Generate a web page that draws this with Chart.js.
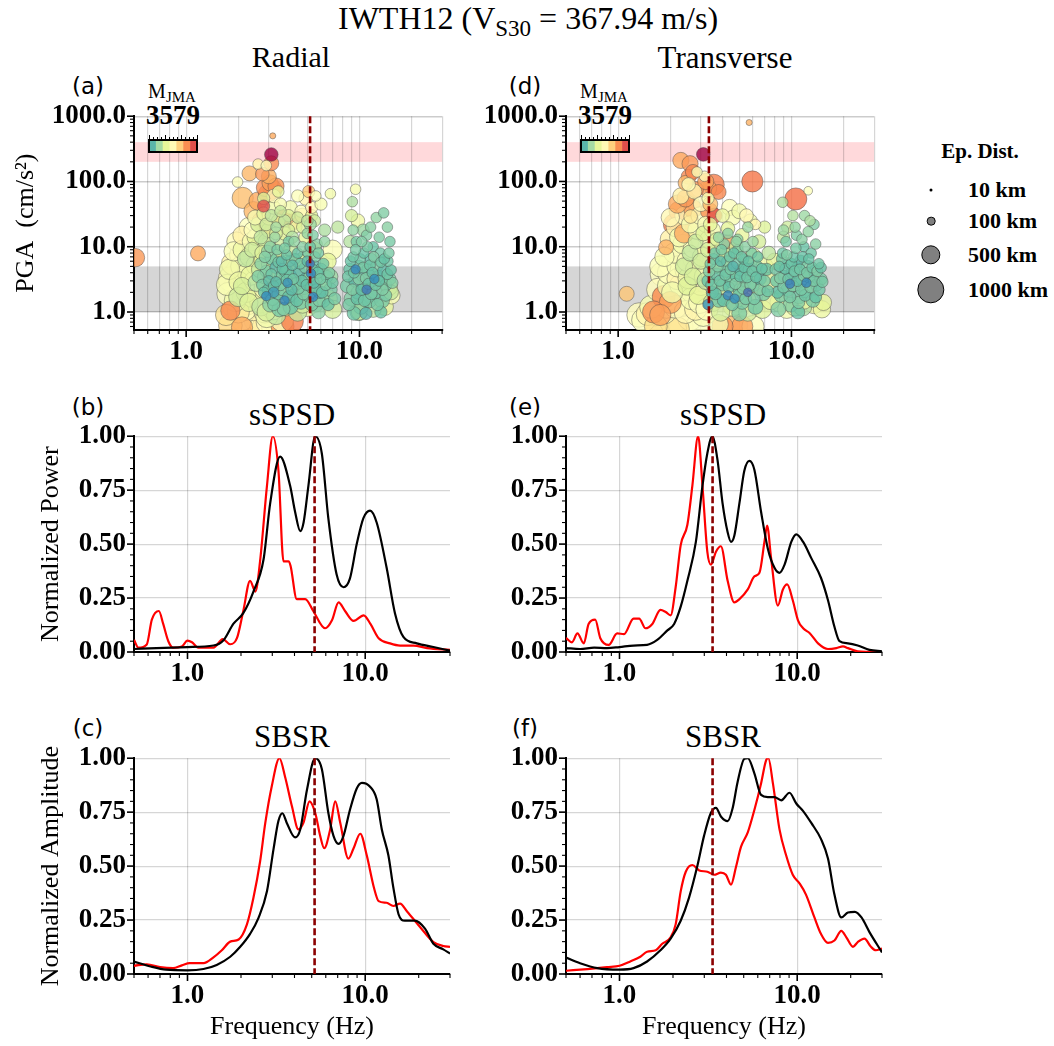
<!DOCTYPE html>
<html>
<head>
<meta charset="utf-8">
<script src="https://cdn.jsdelivr.net/npm/chart.js@4.4.1/dist/chart.umd.min.js"></script>
<style>
  body { margin: 0; background: #fff; }
  #page { position: relative; width: 1054px; height: 1046px; overflow: hidden;
          font-family: "Liberation Serif", "Times New Roman", serif; color: #000; }
  .t { position: absolute; white-space: nowrap; transform: translate(-50%, -50%); line-height: 1; }
  .lab { font-family: "DejaVu Sans", sans-serif; font-size: 23px; }
  .sub { font-size: 0.72em; vertical-align: -0.28em; }
  canvas { position: absolute; }
  .leg { position: absolute; font-weight: bold; font-size: 22px; white-space: nowrap; transform: translateY(-50%); line-height: 1; }
  .dot { position: absolute; border-radius: 50%; background: #808080; border: 1.5px solid #000; transform: translate(-50%, -50%); box-sizing: border-box; }
</style>
</head>
<body>
<div id="page">
  <div class="t" style="left:528px;top:21px;font-size:32px;">IWTH12 (V<span class="sub">S30</span> = 367.94 m/s)</div>
  <div class="t" style="left:291px;top:57px;font-size:30px;">Radial</div>
  <div class="t" style="left:725px;top:57px;font-size:31px;">Transverse</div>

  <div class="t lab" style="left:88px;top:86px;">(a)</div>
  <div class="t lab" style="left:88px;top:407px;">(b)</div>
  <div class="t lab" style="left:88px;top:728px;">(c)</div>
  <div class="t lab" style="left:525px;top:86px;">(d)</div>
  <div class="t lab" style="left:525px;top:407px;">(e)</div>
  <div class="t lab" style="left:525px;top:728px;">(f)</div>

  <div class="t" style="left:292px;top:414px;font-size:31px;">sSPSD</div>
  <div class="t" style="left:723px;top:414px;font-size:31px;">sSPSD</div>
  <div class="t" style="left:292px;top:736px;font-size:31px;">SBSR</div>
  <div class="t" style="left:723px;top:736px;font-size:31px;">SBSR</div>

  <div class="t" style="left:172px;top:93px;font-size:20px;">M<span class="sub" style="font-size:15px">JMA</span></div>
  <div class="t" style="left:173px;top:115px;font-size:27px;font-weight:bold;">3579</div>
  <div class="t" style="left:604px;top:93px;font-size:20px;">M<span class="sub" style="font-size:15px">JMA</span></div>
  <div class="t" style="left:605px;top:115px;font-size:27px;font-weight:bold;">3579</div>

  <div class="t" style="left:980px;top:151px;font-size:21px;font-weight:bold;">Ep. Dist.</div>
</div>

<script>
// ---------- data ----------
const freqTicks = [1, 10];
const pgaTicks = [1, 10, 100, 1000];
const normTicks = [0, 0.25, 0.5, 0.75, 1];
const colorbarTicks = [3, 5, 7, 9];
const distLegend = [10, 100, 500, 1000];

const pgaGrayBand = [1, 5];
const pgaPinkBand = [200, 400];

// dominant frequency (Hz) marked by the dashed line
const peakRadial = 5.19;
const peakTransverse = 3.34;

// [frequency (Hz), PGA (cm/s2), M_JMA, epicentral distance (km)]
const radialPoints = [
  [1.75,1.9,5.2,700],[1.8,3.2,5.4,800],[1.85,5.5,5.6,650],[1.9,1.2,5.0,750],[1.95,2.4,5.3,900],
  [2.0,4.2,5.1,850],[2.05,7.5,5.5,600],[2.1,0.8,5.2,800],[2.15,1.6,5.6,700],[2.2,3.0,5.0,750],
  [2.25,5.8,5.4,650],[2.3,10,5.7,550],[2.35,0.65,5.3,900],[2.4,2.1,5.1,800],[2.45,1.1,5.5,700],
  [2.5,3.8,5.2,600],[2.55,0.75,5.8,850],[2.6,1.5,5.0,750],[2.7,2.6,5.4,700],[2.75,0.6,5.6,800],
  [2.85,1.0,5.1,650],[2.95,0.7,5.3,700],[3.05,1.3,5.5,600],[3.2,0.6,5.2,800],[1.7,0.9,5.9,600],
  [1.8,0.62,6.1,750],[2.0,1.0,5.8,650],[2.25,1.35,5.9,700],[2.4,4.6,5.7,600],[2.6,6.5,5.0,550],
  [1.95,12,5.3,500],[2.1,15,5.6,450],[2.3,20,5.2,500],
  [1.8,1.05,7.2,500],[4.1,0.72,7.3,650],[3.6,0.6,7.0,700],[2.1,0.58,6.8,600],
  [1.72,2.6,5.0,600],[1.78,4.5,4.8,550],[1.88,8.5,5.1,500],[1.92,1.5,4.9,650],[2.02,2.9,4.7,550],
  [2.08,5.0,5.0,600],[2.12,9,4.8,500],[2.18,1.1,5.1,700],[2.22,2.0,4.6,550],[2.28,4.0,4.9,600],
  [2.32,7,4.7,500],[2.38,12,5.0,450],[2.42,1.7,4.8,600],[2.48,3.0,5.2,550],[2.52,5.2,4.6,500],
  [2.58,9.5,4.9,450],[2.62,16,5.1,400],[2.68,1.4,4.7,600],[2.72,4.0,4.9,500],[2.78,6,4.5,450],
  [2.82,2.3,5.0,550],[2.88,10,4.8,400],[2.92,0.85,4.9,650],[2.98,3.6,4.6,500],[3.08,4.8,4.8,450],
  [3.12,8.5,4.7,400],[3.18,1.1,5.0,600],[3.28,2.8,4.6,500],[3.38,3.8,4.8,450],[3.48,6.5,4.7,400],
  [3.58,0.75,5.2,700],[3.68,2.6,4.6,450],[3.88,5.5,4.7,400],[4.2,3.8,4.6,400],[4.5,2.0,4.8,450],
  [4.8,6.5,4.6,350],[5.0,1.2,4.8,500],[5.4,9,4.5,400],[5.8,3.8,4.7,450],[6.2,2.8,4.5,400],
  [6.6,1.6,4.6,450],
  [2.1,2.5,4.3,400],[2.2,6.5,4.0,350],[2.3,1.4,4.4,450],[2.4,9,4.2,300],[2.5,14,4.5,350],
  [2.55,2.8,3.9,400],[2.6,22,4.3,300],[2.65,4.5,4.1,350],[2.7,1.2,4.0,450],[2.75,8,4.4,300],
  [2.8,32,4.6,250],[2.85,3.5,3.8,300],[2.9,12,4.2,350],[3.0,5.5,4.0,300],[3.0,18,4.4,300],
  [3.1,2.2,3.9,400],[3.2,40,4.8,250],[3.3,7,4.1,300],[3.4,25,4.5,250],[3.5,1.6,4.0,400],
  [3.6,11,4.2,300],[3.7,16,4.6,250],[3.8,4,3.9,300],[3.9,30,4.4,200],[4.0,9,4.1,250],
  [4.1,2.6,4.3,350],[4.3,20,4.7,200],[4.5,6,4.0,300],[4.7,1.3,4.2,400],[4.9,14,4.5,250],
  [2.35,3.6,4.6,500],[2.0,1.7,4.2,500],[2.9,1.0,4.3,450],[3.3,0.9,4.0,500],[3.8,1.2,4.4,450],
  [4.4,1.0,4.1,450],[3.5,45,5.0,200],[4.0,40,4.9,250],[4.6,35,5.2,200],[3.2,60,5.3,250],
  [3.0,28,5.6,300],[3.5,20,5.4,350],
  [2.7,14,4.0,250],[2.9,22,4.2,220],[3.1,30,4.0,200],[3.3,16,4.3,220],[3.5,35,4.1,180],
  [3.7,25,4.0,200],[3.9,18,4.3,200],[4.1,14,3.9,200],[4.4,28,4.2,180],[4.7,20,4.4,200],
  [5.0,25,4.0,180],[5.3,30,4.5,200],[2.5,28,5.0,300],[2.4,18,5.2,350],[2.8,55,4.4,200],
  [3.4,70,4.6,180],[4.4,60,5.2,200],
  [2.8,2.0,3.0,150],[2.9,4.2,3.2,200],[3.0,3.0,2.9,150],[3.1,6.5,3.1,200],[3.15,1.6,3.3,250],
  [3.2,2.5,3.0,150],[3.3,4.8,2.8,200],[3.35,9,3.2,150],[3.4,1.9,3.1,200],[3.5,3.4,3.0,200],
  [3.55,6,2.9,150],[3.6,2.2,3.3,200],[3.7,1.5,2.2,120],[3.75,4.2,3.1,200],[3.8,7.5,3.0,150],
  [3.85,2.8,2.4,120],[3.9,12,3.2,150],[4.0,3.6,3.0,200],[4.1,5.2,2.9,150],[4.2,1.8,3.1,250],
  [4.3,2.7,3.3,200],[4.4,8,3.0,150],[4.5,4.1,2.8,200],[4.6,1.4,3.2,250],[3.05,1.3,3.4,300],
  [2.95,8.5,3.5,200],[3.25,14,3.6,150],[3.45,1.1,3.2,300],[4.0,1.2,3.0,300],[4.8,2.3,3.1,200],
  [2.9,1.75,2.3,120],[3.2,2.0,2.5,150],
  [2.6,3.5,3.3,200],[2.7,5.5,3.4,200],[2.75,2.6,3.2,180],[2.85,7,3.3,180],[2.95,2.2,3.0,160],
  [3.05,10,3.4,180],[3.1,3.8,3.1,160],[3.2,1.3,3.2,200],[3.3,2.9,2.9,150],[3.4,5.8,3.1,160],
  [3.5,2.6,3.2,180],[3.6,4.6,3.0,160],[3.65,1.1,3.3,220],[3.7,9.5,3.2,150],[3.8,3.1,3.1,170],
  [3.9,1.7,3.0,200],[3.95,6,3.2,160],[4.05,2.2,2.9,170],[4.15,3.2,3.1,160],[4.25,6.5,3.3,160],
  [4.35,1.5,3.0,200],[4.45,2.3,3.2,180],[4.55,5.5,3.1,160],[4.65,3.0,3.0,170],[4.75,1.9,3.3,200],
  [4.85,4.8,3.2,170],[4.95,2.6,3.0,160],[5.05,8,3.1,150],[5.15,3.5,3.3,180],[5.3,1.3,3.2,220],
  [5.35,4.5,3.0,170],[5.45,2.8,2.9,160],[5.55,7,3.2,150],[5.65,2.2,3.1,180],[5.75,4.0,3.0,170],
  [5.85,1.5,3.3,200],[5.95,3.2,3.2,160],[6.1,2.0,3.0,180],[6.2,5.5,3.1,160],[6.4,2.6,3.2,170],
  [6.6,1.3,3.0,200],[6.7,4.0,3.3,160],[7.0,2.8,3.1,170],[7.2,1.6,3.2,200],[4.7,10,3.4,150],
  [5.0,16,3.5,150],[5.7,11,3.4,150],[4.2,12,3.5,150],[3.3,20,3.7,150],
  [4.9,3.2,3.0,200],[5.0,6,2.9,150],[5.1,1.8,3.2,250],[5.2,10,3.1,150],[5.25,3.9,2.2,120],
  [5.3,2.4,3.0,200],[5.4,15,3.3,150],[5.5,5,2.9,200],[5.6,1.3,3.1,300],[5.7,3,3.0,200],
  [5.8,8,3.2,150],[5.9,2,2.8,200],[6.0,4.5,3.1,200],[6.2,1.5,3.3,250],[6.3,12,3.5,150],
  [6.5,3.5,3.0,200],[6.8,2.2,3.2,250],[7.0,1.1,4.3,450],[7.0,9,5.1,500],[6.6,6,4.5,350],
  [5.5,25,4.2,200],[5.3,40,5.4,200],[5.6,60,5.2,150],[6.0,45,5.0,200],[5.2,22,3.6,200],
  [4.9,55,5.5,250],[4.7,30,6.0,300],[5.1,70,6.3,200],[6.8,65,4.9,150],[7.5,20,4.0,200],
  [6.3,18,3.8,200],[5.8,1.0,3.4,250],[6.8,3.5,3.6,300],[5.4,1.7,2.2,120],[5.2,5.5,2.0,100],
  [8.5,2.5,3.2,250],[8.8,4.5,3.0,200],[9.0,1.6,3.3,300],[9.2,7,3.1,150],[9.4,3,2.9,200],
  [9.6,12,3.2,150],[9.8,2,3.0,250],[10.0,5,3.1,200],[10.2,1.2,3.4,300],[10.4,3.6,2.9,200],
  [10.6,8,3.0,150],[10.8,2.5,3.2,250],[11.0,15,3.3,150],[11.2,4.5,3.0,200],[11.4,1.5,3.1,300],
  [11.6,6.5,2.9,200],[11.8,3,3.2,200],[12.0,10,3.0,150],[12.3,2,3.1,250],[12.6,5,3.3,200],
  [12.9,3.5,3.0,200],[13.2,8,3.1,150],[13.5,1.5,3.2,300],[13.8,4.2,2.9,200],[14.2,2.6,3.0,200],
  [14.6,6,3.1,150],[15.0,3.2,3.2,200],[15.2,2.0,4.1,300],[9.1,49,3.8,150],[9.5,76,5.0,150],
  [9.0,30,4.3,200],[9.8,25,4.8,250],[10.5,18,3.6,200],[12.5,28,3.5,150],[13.8,33,3.3,150],
  [14.5,20,3.4,150],[9.3,0.95,3.1,250],[10.9,0.95,2.8,200],[13.3,1.0,3.0,200],[11.0,2.2,2.0,120],
  [9.5,4.5,2.2,120],[12.2,3.2,2.3,120],[14.9,2.4,4.6,350],[8.8,12,3.9,200],[9.9,1.0,3.6,400],
  [11.5,1.6,3.5,350],
  [8.6,3.5,3.1,170],[8.7,1.3,3.2,200],[8.9,6,3.0,160],[9.1,2.2,3.3,180],[9.3,4.0,3.1,160],
  [9.5,9,3.2,150],[9.7,1.6,3.0,200],[9.9,3.2,3.3,170],[10.1,6.5,3.1,160],[10.3,2.2,3.0,180],
  [10.5,4.8,3.2,160],[10.7,1.5,3.1,200],[10.9,3.3,3.3,170],[11.1,10,3.2,150],[11.3,2.7,3.0,170],
  [11.5,5.2,3.1,160],[11.7,1.9,3.2,190],[11.9,4.0,3.0,160],[12.1,7,3.3,150],[12.4,2.6,3.1,170],
  [12.7,1.3,3.2,200],[13.0,3.0,3.0,160],[13.3,5.8,3.1,150],[13.6,2.2,3.3,180],[13.9,6.5,3.0,150],
  [14.2,1.8,3.2,190],[14.5,3.8,3.1,160],[14.8,8,3.2,150],[15.2,4.4,3.0,160],[15.5,2.8,3.3,170],
  [9.2,18,3.5,150],[10.3,12,3.3,150],[11.6,20,3.4,150],[13.0,14,3.3,150],[15.0,12,3.2,150],
  [10.0,1.0,4.3,350],[12.0,1.1,4.0,350],[14.0,1.2,4.6,400],[15.3,1.8,5.0,400],
  [2.45,35,6.6,500],[2.6,50,6.8,450],[2.7,25,7.0,400],[2.8,42,8.0,200],[2.85,80,7.1,400],
  [2.95,65,7.3,450],[3.05,95,6.9,350],[3.15,75,7.4,500],[3.3,85,7.1,350],[2.75,130,7.0,250],
  [3.0,120,6.7,300],[3.1,190,7.2,300],[2.6,185,5.6,150],[2.9,175,5.3,150],[2.32,133,6.6,300],
  [1.98,98,5.2,150],[2.12,56,6.5,600],[2.9,18,6.8,400],[3.6,28,6.9,350],[4.2,25,6.6,400],
  [3.1,259,9.0,250],[3.16,500,6.8,50],[0.51,6.8,7.0,450],[1.17,7.9,6.8,300]
];

const transversePoints = [
  [1.32,0.9,5.3,800],[1.48,0.93,5.5,700],[1.64,0.93,5.1,750],[1.7,0.65,5.4,900],[1.8,3.8,5.2,800],
  [1.9,1.2,5.6,700],[1.95,2.5,5.0,650],[2.0,5.5,5.3,750],[2.05,0.7,5.7,800],[2.1,1.6,5.2,700],
  [2.2,3.2,5.5,600],[2.25,8,5.1,650],[2.3,0.6,5.4,800],[2.35,1.3,5.0,750],[2.45,4.4,5.6,600],
  [2.5,2.0,5.2,700],[2.55,12,5.4,550],[2.6,0.8,5.3,800],[2.7,6.5,5.0,550],[2.8,1.1,5.5,650],
  [2.9,0.62,5.2,800],[3.0,2.6,5.4,600],[3.1,0.9,5.1,700],[2.15,20,5.5,500],[2.4,30,5.3,450],
  [2.6,45,5.8,500],[2.0,13,5.6,550],[1.85,7,5.0,500],[2.3,60,5.6,350],[2.55,90,5.2,250],
  [2.75,70,5.5,300],[3.0,45,5.3,300],[3.15,120,5.4,150],[2.85,140,5.1,150],[3.3,55,5.0,200],
  [1.65,0.6,6.0,700],[2.2,0.55,5.9,750],[4.8,0.62,6.6,700],[5.2,0.6,6.9,600],
  [1.4,0.75,5.2,750],[1.55,1.2,5.0,700],[1.7,2.2,5.3,700],[1.75,5,5.1,600],[1.85,1.0,5.4,750],
  [1.95,4,5.2,650],[2.05,2.0,4.9,600],[2.1,8,5.1,550],[2.15,1.2,5.3,700],[2.2,5,5.0,600],
  [2.3,2.6,5.2,650],[2.35,11,4.9,500],[2.45,1.0,5.4,700],[2.5,6,5.1,550],[2.55,3.3,4.8,600],
  [2.65,1.6,5.0,650],[2.7,9.5,5.2,500],[2.8,4.5,4.9,550],[2.85,18,5.0,450],[2.95,1.4,5.1,650],
  [3.05,7,4.8,500],[3.15,3.5,5.0,550],[3.25,1.1,5.2,650],[3.35,13,4.9,450],[2.0,28,5.4,450],
  [2.25,14,5.0,500],[2.6,22,5.0,400],[2.95,30,5.2,400],[3.2,22,5.1,350],[3.5,18,4.9,350],
  [3.7,8,4.8,400],[4.0,5,4.7,450],[4.3,2.4,4.9,500],[4.7,8.5,4.7,400],[5.1,3.2,4.8,450],
  [5.5,1.5,4.9,500],[6.0,7,4.6,400],[6.5,2.5,4.8,450],[7.0,5,4.7,400],[7.5,3.0,4.6,400],
  [8.0,6,4.5,350],[8.5,1.4,4.8,450],[9.4,1.1,4.9,450],[10.5,1.2,4.6,450],[11.8,1.5,4.7,400],
  [13.5,1.3,4.8,450],[15.0,1.1,4.7,400],
  [1.83,1.7,7.2,700],[1.89,9.8,6.7,300],[2.0,1.4,6.9,650],[2.1,22,7.2,600],[2.25,35,7.1,550],
  [2.4,16,6.8,500],[2.55,25,7.3,550],[2.7,38,7.0,450],[2.62,29,5.8,250],[2.3,210,6.8,350],
  [2.6,187,7.0,350],[2.55,118,7.2,300],[2.79,75,7.1,350],[2.45,95,6.6,300],[3.56,89,7.3,600],
  [3.8,69,7.2,300],[3.6,30,7.9,300],[3.3,78,6.9,400],[3.4,45,6.5,300],[4.3,12,6.8,250],
  [2.2,45,6.8,450],[2.45,55,7.0,400],[2.7,140,7.2,300],[3.2,100,6.9,350],[3.35,35,7.1,400],
  [1.75,0.9,6.9,600],[1.6,1.0,7.1,650],[4.0,0.6,7.0,600],
  [2.4,5,4.2,400],[2.5,2.5,4.4,450],[2.6,8,4.0,350],[2.7,3.5,4.3,400],[2.8,12,4.1,300],
  [2.9,1.8,4.5,450],[3.0,6,4.2,350],[3.1,16,4.4,300],[3.2,3,4.0,400],[3.3,9,4.3,300],
  [3.4,22,4.6,250],[3.5,1.4,4.1,450],[3.6,5,4.0,300],[3.7,13,4.4,250],[3.9,2.5,4.2,350],
  [4.0,30,4.7,250],[4.1,7.5,4.1,300],[4.3,19,4.5,250],[4.5,3.5,4.3,350],[4.6,28,5.0,300],
  [4.8,10,4.2,250],[5.0,1.8,4.4,400],[5.2,15,4.6,250],[5.5,5.5,4.1,300],[5.8,25,4.8,250],
  [6.1,3.0,4.2,350],[6.5,12,4.3,250],[7.0,20,4.4,200],[7.4,8,4.0,250],[4.4,40,5.2,350],
  [5.0,35,4.9,300],[5.5,30,5.4,250],[6.2,22,5.5,150],[3.9,1.0,4.3,450],[4.6,1.2,4.5,500],
  [5.6,1.0,4.2,450],[6.8,1.1,4.4,450],[7.6,1.5,4.6,450],[3.8,0.65,5.0,500],[6.0,0.6,5.2,650],
  [3.3,3,3.0,200],[3.4,5.5,3.2,150],[3.5,2.0,2.9,200],[3.6,8,3.1,150],[3.7,3.8,3.0,200],
  [3.8,1.5,3.2,250],[3.9,6,2.9,150],[4.0,2.6,3.1,200],[4.1,11,3.3,150],[4.2,4.2,3.0,200],
  [4.3,1.8,2.2,120],[4.4,7,3.1,150],[4.5,2.9,3.0,200],[4.6,5,2.8,150],[4.7,1.6,2.3,120],
  [4.8,3.6,3.0,200],[4.9,9,3.2,150],[5.0,2.2,3.1,200],[5.1,4.4,2.9,200],[5.2,1.4,3.2,250],
  [5.3,6.5,3.0,150],[5.4,3,3.1,200],[5.6,2.0,1.9,100],[5.7,4.5,3.0,200],[5.9,8,3.2,150],
  [6.0,2.5,3.0,200],[6.3,5,3.1,200],[6.6,3.2,2.9,200],[6.9,1.9,3.2,250],[7.2,4.5,3.0,200],
  [5.0,0.95,3.3,300],[6.2,1.2,3.1,300],[3.3,1.3,2.4,150],[4.9,13,3.4,150],[5.6,20,3.6,150],
  [3.35,4.2,3.3,180],[3.45,2.6,3.1,170],[3.55,6.5,3.2,160],[3.65,1.9,3.0,190],[3.75,5,3.3,170],
  [3.85,3.0,3.1,160],[3.95,9,3.2,150],[4.05,1.5,3.0,200],[4.15,3.7,3.1,160],[4.25,6,3.3,160],
  [4.35,2.4,3.0,170],[4.45,4.5,3.2,160],[4.55,1.3,3.1,200],[4.65,8,3.0,150],[4.75,2.7,3.3,170],
  [4.85,5.5,3.1,160],[4.95,1.8,3.2,190],[5.05,3.5,3.0,160],[5.15,7,3.1,150],[5.25,2.3,3.3,180],
  [5.35,4.8,3.0,160],[5.45,1.6,3.2,190],[5.55,3.4,3.1,160],[5.65,6,3.0,150],[5.8,2.6,3.3,170],
  [5.95,4.2,3.1,160],[6.1,1.6,3.2,190],[6.25,3.4,3.0,160],[6.4,7,3.1,150],[6.55,2.2,3.3,180],
  [6.75,4.6,3.0,160],[7.0,3.0,3.2,170],[7.3,2.1,3.1,180],[4.3,16,3.4,150],[4.8,12,3.5,150],
  [5.4,10,3.4,150],[3.8,14,3.5,150],[6.0,12,3.6,150],
  [8.2,3,3.1,200],[8.5,5,3.0,150],[8.7,1.8,3.2,250],[8.9,8,3.1,150],[9.1,3.5,2.9,200],
  [9.3,12,3.2,150],[9.5,2.2,3.0,250],[9.7,5.5,3.1,200],[9.9,1.3,3.3,300],[10.1,4,2.9,200],
  [10.3,7,3.0,150],[10.5,2.6,3.2,250],[10.7,15,3.3,150],[10.9,4.8,3.0,200],[11.1,1.7,3.1,250],
  [11.3,6,2.9,200],[11.5,3,3.2,200],[11.8,10,3.0,150],[12.1,2.1,3.1,250],[12.4,5,3.3,200],
  [12.7,3.4,3.0,200],[13.0,8,3.1,150],[13.3,1.5,3.2,250],[13.6,4.2,2.9,200],[14.0,2.6,3.0,200],
  [14.4,5.5,3.1,150],[14.8,3.2,3.2,200],[15.3,1.4,4.5,350],[8.9,48,3.8,150],[11.9,30,3.6,150],
  [13.5,22,3.3,150],[12.8,25,3.8,150],[9.5,20,4.2,200],[10.2,30,3.9,150],[8.4,1.1,3.3,300],
  [10.9,1.0,3.0,250],[12.2,2.8,2.2,120],[9.8,2.7,2.1,120],[11.6,1.2,3.8,450],[9.0,14,4.0,200],
  [8.1,4.5,3.2,170],[8.3,2.0,3.0,190],[8.6,3.3,3.3,170],[8.8,6.5,3.1,160],[9.0,2.4,3.2,180],
  [9.2,4.6,3.0,160],[9.4,7.5,3.3,150],[9.6,3.2,3.1,170],[9.8,1.7,3.2,190],[10.0,5.5,3.0,160],
  [10.2,2.5,3.3,180],[10.4,4.2,3.1,160],[10.6,9.5,3.2,150],[10.8,3.0,3.0,170],[11.0,1.4,3.3,200],
  [11.2,4.5,3.1,160],[11.4,2.2,3.2,180],[11.6,7,3.0,150],[11.8,3.6,3.3,170],[12.0,1.8,3.1,190],
  [12.3,4.0,3.2,160],[12.6,6.5,3.0,150],[12.9,2.4,3.3,180],[13.2,4.8,3.1,160],[13.5,3.0,3.2,170],
  [13.8,1.7,3.0,190],[14.1,4.2,3.3,160],[14.5,2.2,3.1,180],[14.8,4.8,3.0,160],[15.1,2.9,3.2,170],
  [9.0,18,3.6,150],[10.5,20,3.5,150],[11.5,13,3.4,150],[12.5,17,3.5,150],[13.8,11,3.4,150],
  [3.1,260,9.0,250],[5.7,800,6.7,50],[5.95,100,7.4,600],[10.6,54,7.5,650],[12.5,72,5.2,100],
  [1.12,1.9,6.4,300]
];

// [frequency (Hz), normalized value]
const spsdRadialBlack = [[0.5,0.014],[0.67,0.018],[1.0,0.023],[1.4,0.03],[1.6,0.056],[1.81,0.13],[2.06,0.18],[2.35,0.28],[2.68,0.43],[2.92,0.69],[3.32,0.905],[3.78,0.77],[4.03,0.65],[4.31,0.56],[4.5,0.6],[4.79,0.77],[5.23,1.0],[5.7,0.92],[6.2,0.62],[6.9,0.36],[7.55,0.3],[8.2,0.34],[8.96,0.5],[9.77,0.62],[10.65,0.655],[11.6,0.6],[13.2,0.39],[14.7,0.18],[16.4,0.07],[19.5,0.04],[24.2,0.023],[30,0.006]];
const spsdRadialRed = [[0.5,0.056],[0.53,0.02],[0.59,0.035],[0.63,0.15],[0.69,0.19],[0.73,0.13],[0.78,0.05],[0.83,0.02],[0.93,0.026],[1.0,0.053],[1.06,0.045],[1.15,0.02],[1.4,0.02],[1.58,0.06],[1.74,0.036],[1.9,0.065],[2.06,0.19],[2.25,0.33],[2.41,0.28],[2.56,0.42],[2.8,0.77],[3.02,1.0],[3.25,0.84],[3.47,0.42],[3.7,0.42],[3.8,0.4],[4.12,0.245],[4.6,0.245],[5.1,0.19],[5.95,0.11],[6.5,0.147],[7.08,0.23],[7.7,0.19],[8.6,0.144],[9.8,0.17],[10.7,0.13],[11.9,0.064],[13.8,0.04],[15.7,0.03],[18.7,0.03],[22.3,0.018],[30,0.01]];

const spsdTransBlack = [[0.5,0.018],[0.6,0.014],[0.72,0.02],[0.85,0.018],[1.0,0.023],[1.2,0.03],[1.43,0.033],[1.63,0.056],[1.86,0.1],[2.03,0.13],[2.21,0.21],[2.41,0.33],[2.69,0.51],[2.93,0.77],[3.12,0.92],[3.33,1.0],[3.56,0.89],[3.8,0.69],[4.06,0.555],[4.24,0.51],[4.43,0.54],[4.73,0.69],[5.04,0.84],[5.38,0.886],[5.74,0.845],[6.26,0.65],[6.83,0.48],[7.45,0.39],[7.95,0.367],[8.49,0.405],[9.26,0.51],[9.88,0.545],[10.8,0.51],[12.0,0.435],[13.6,0.344],[14.9,0.24],[16.2,0.117],[17.3,0.05],[19.3,0.04],[21.9,0.03],[25.5,0.01],[30,0.003]];
const spsdTransRed = [[0.5,0.065],[0.54,0.045],[0.58,0.086],[0.63,0.04],[0.67,0.13],[0.73,0.15],[0.78,0.064],[0.87,0.033],[0.97,0.086],[1.06,0.083],[1.2,0.155],[1.29,0.155],[1.4,0.11],[1.53,0.13],[1.7,0.195],[1.82,0.185],[1.94,0.17],[2.07,0.3],[2.21,0.495],[2.41,0.59],[2.57,0.77],[2.77,1.0],[2.93,0.77],[3.12,0.465],[3.27,0.405],[3.49,0.465],[3.72,0.49],[4.06,0.33],[4.43,0.23],[4.73,0.245],[5.27,0.29],[5.74,0.35],[6.13,0.367],[6.54,0.51],[6.77,0.586],[7.13,0.435],[7.78,0.215],[8.31,0.29],[8.78,0.313],[9.44,0.24],[10.1,0.147],[10.8,0.11],[11.8,0.086],[13.1,0.04],[14.9,0.014],[16.6,0.018],[18.1,0.026],[19.3,0.018],[21.9,0.003],[30,0]];

const sbsrRadialBlack = [[0.5,0.058],[0.62,0.035],[0.76,0.02],[1.0,0.017],[1.23,0.023],[1.46,0.042],[1.74,0.08],[1.98,0.126],[2.25,0.186],[2.51,0.26],[2.8,0.383],[3.05,0.58],[3.25,0.71],[3.42,0.745],[3.62,0.7],[4.03,0.633],[4.31,0.67],[4.7,0.853],[5.23,1.0],[5.7,0.95],[6.2,0.747],[6.63,0.64],[7.08,0.603],[7.55,0.64],[8.2,0.76],[8.96,0.86],[9.58,0.886],[10.65,0.868],[11.6,0.81],[12.4,0.67],[13.5,0.55],[14.4,0.4],[15.4,0.277],[16.7,0.247],[19.0,0.247],[21.7,0.21],[24.2,0.14],[27.5,0.114],[30,0.095]];
const sbsrRadialRed = [[0.5,0.038],[0.59,0.045],[0.7,0.032],[0.83,0.027],[0.93,0.04],[1.03,0.05],[1.23,0.05],[1.4,0.077],[1.56,0.11],[1.74,0.15],[1.94,0.16],[2.16,0.23],[2.35,0.353],[2.56,0.52],[2.74,0.7],[2.98,0.87],[3.29,1.0],[3.54,0.914],[3.87,0.777],[4.21,0.67],[4.49,0.7],[4.86,0.8],[5.23,0.747],[5.58,0.64],[5.88,0.583],[6.35,0.67],[6.78,0.8],[7.24,0.7],[8.04,0.535],[8.58,0.58],[9.38,0.65],[10.2,0.55],[11.2,0.4],[11.9,0.338],[13.2,0.33],[14.4,0.315],[15.7,0.326],[17.2,0.29],[20.4,0.217],[24.2,0.148],[27.5,0.13],[30,0.126]];

const sbsrTransBlack = [[0.5,0.076],[0.6,0.05],[0.75,0.027],[1.0,0.02],[1.2,0.027],[1.43,0.058],[1.7,0.11],[1.94,0.164],[2.21,0.247],[2.46,0.353],[2.75,0.505],[2.99,0.64],[3.27,0.747],[3.49,0.77],[3.72,0.73],[4.06,0.708],[4.33,0.768],[4.62,0.89],[5.04,0.997],[5.27,1.0],[5.74,0.93],[6.26,0.83],[6.83,0.82],[7.45,0.82],[8.13,0.805],[9.05,0.84],[9.88,0.79],[10.8,0.755],[12.0,0.7],[13.6,0.626],[14.9,0.535],[16.2,0.368],[17.7,0.262],[19.3,0.285],[21.1,0.288],[23.0,0.262],[25.5,0.194],[30,0.1]];
const sbsrTransRed = [[0.5,0.015],[0.66,0.023],[0.85,0.032],[1.0,0.038],[1.15,0.058],[1.31,0.08],[1.43,0.103],[1.6,0.11],[1.74,0.14],[1.94,0.17],[2.07,0.23],[2.21,0.383],[2.36,0.474],[2.57,0.505],[2.81,0.48],[3.12,0.474],[3.41,0.46],[3.72,0.47],[3.97,0.46],[4.24,0.414],[4.52,0.495],[4.83,0.59],[5.27,0.656],[5.74,0.76],[6.26,0.883],[6.68,0.99],[6.88,1.0],[7.3,0.883],[7.95,0.67],[8.66,0.55],[9.44,0.46],[10.3,0.42],[11.2,0.368],[12.5,0.262],[13.6,0.186],[14.9,0.144],[16.2,0.155],[17.7,0.2],[18.9,0.17],[20.6,0.126],[21.9,0.148],[23.9,0.164],[26.0,0.126],[27.7,0.11],[30,0.118]];

// ---------- helpers ----------
const SERIF = '"Liberation Serif", "Times New Roman", serif';
Chart.defaults.font.family = SERIF;
Chart.defaults.color = '#000';

const SPECTRAL_R = ['#5e4fa2','#3288bd','#66c2a5','#abdda4','#e6f598','#ffffbf','#fee08b','#fdae61','#f46d43','#d53e4f','#9e0142'];
function hexRgb(h) { return [1, 3, 5].map(i => parseInt(h.slice(i, i + 2), 16)); }
function magColor(m, alpha) {
  let t = Math.min(1, Math.max(0, (m - 1.5) / 7.5)) * (SPECTRAL_R.length - 1);
  const i = Math.min(Math.floor(t), SPECTRAL_R.length - 2), f = t - i;
  const a = hexRgb(SPECTRAL_R[i]), b = hexRgb(SPECTRAL_R[i + 1]);
  const c = a.map((v, k) => Math.round(v + (b[k] - v) * f));
  return `rgba(${c[0]},${c[1]},${c[2]},${alpha})`;
}
const distRadius = d => 0.433 * Math.sqrt(d);

function logTicks(lo, hi, majors) {
  const out = [];
  for (let e = -1; e <= 3; e++) {
    for (let m = 1; m < 10; m++) {
      const v = +(m * Math.pow(10, e)).toPrecision(3);
      if (v >= lo - 1e-9 && v <= hi + 1e-9) out.push({ value: v, major: majors.includes(v) });
    }
  }
  return out;
}
function linTicks() {
  const out = [];
  for (let i = 0; i <= 20; i++) {
    const v = +(i * 0.05).toFixed(2);
    out.push({ value: v, major: normTicks.includes(v) });
  }
  return out;
}

// outward major/minor tick marks on the bottom and left spines
const tickMarks = {
  id: 'tickMarks',
  afterDraw(chart) {
    const ctx = chart.ctx, xs = chart.scales.x, ys = chart.scales.y;
    ctx.save();
    ctx.strokeStyle = '#000';
    xs.ticks.forEach(t => {
      const px = xs.getPixelForValue(t.value);
      ctx.lineWidth = t.major ? 1.6 : 1.1;
      ctx.beginPath(); ctx.moveTo(px, xs.top); ctx.lineTo(px, xs.top + (t.major ? 7 : 4)); ctx.stroke();
    });
    ys.ticks.forEach(t => {
      const py = ys.getPixelForValue(t.value);
      ctx.lineWidth = t.major ? 1.6 : 1.1;
      ctx.beginPath(); ctx.moveTo(ys.right, py); ctx.lineTo(ys.right - (t.major ? 7 : 4), py); ctx.stroke();
    });
    ctx.restore();
  }
};

function bandsPlugin() {
  return {
    id: 'bands',
    beforeDraw(chart) {
      const { ctx, chartArea: a, scales: { y } } = chart;
      ctx.save();
      [[pgaGrayBand, 'rgba(200,200,200,0.75)'], [pgaPinkBand, 'rgba(255,185,190,0.55)']].forEach(([b, c]) => {
        const y0 = y.getPixelForValue(b[0]), y1 = y.getPixelForValue(b[1]);
        ctx.fillStyle = c;
        ctx.fillRect(a.left, y1, a.right - a.left, y0 - y1);
      });
      ctx.restore();
    }
  };
}

function peakLinePlugin(freq) {
  return {
    id: 'peakLine',
    afterDatasetsDraw(chart) {
      const { ctx, chartArea: a, scales: { x } } = chart;
      const px = x.getPixelForValue(freq);
      ctx.save();
      ctx.strokeStyle = '#8b0000';
      ctx.lineWidth = 2.6;
      ctx.setLineDash([7, 3]);
      ctx.beginPath(); ctx.moveTo(px, a.top); ctx.lineTo(px, a.bottom); ctx.stroke();
      ctx.restore();
    }
  };
}

const TICK_FONT = { family: SERIF, size: 27, weight: 'bold' };
const TITLE_FONT = { family: SERIF, size: 26 };

function xAxis(height, denseGrid, title) {
  return {
    type: 'logarithmic', min: 0.5, max: 30,
    afterBuildTicks: s => { s.ticks = logTicks(0.5, 30, freqTicks); },
    afterFit: s => { s.height = height; },
    border: { color: '#000', width: 2 },
    grid: {
      drawTicks: false,
      color: c => (c.tick && (c.tick.major || denseGrid)) ? 'rgba(0,0,0,0.16)' : 'rgba(0,0,0,0)',
      lineWidth: 1.2
    },
    ticks: {
      autoSkip: false, maxRotation: 0, padding: 6, font: TICK_FONT, color: '#000',
      callback: v => freqTicks.includes(v) ? v.toFixed(1) : ''
    },
    title: title ? { display: true, text: title, font: TITLE_FONT, color: '#000', padding: 0 } : { display: false }
  };
}

function makeCanvas(left, top, w, h) {
  const c = document.createElement('canvas');
  c.width = w; c.height = h;
  c.style.left = left + 'px'; c.style.top = top + 'px';
  document.getElementById('page').appendChild(c);
  return c;
}

// panel geometry (plot-area pixels)
const COLS = [{ plotLeft: 134, canvasLeft: 0 }, { plotLeft: 566, canvasLeft: 432 }];
const PLOT_W = 316, PAD_TOP = 20, PAD_RIGHT = 6;
const ROWS = [{ top: 112, bottom: 330, xh: 40 }, { top: 432, bottom: 652, xh: 40 }, { top: 754, bottom: 974, xh: 69 }];

function panelBox(col, row, titleCenter) {
  const C = COLS[col], R = ROWS[row];
  const padLeft = titleCenter ? Math.round(titleCenter - 15.6) : 0;
  return {
    left: C.canvasLeft, top: R.top - PAD_TOP,
    w: C.plotLeft - C.canvasLeft + PLOT_W + PAD_RIGHT,
    h: PAD_TOP + (R.bottom - R.top) + R.xh,
    padLeft, yWidth: C.plotLeft - C.canvasLeft - padLeft, xh: R.xh
  };
}

function scatterPanel(col, points, peak, yTitle) {
  const b = panelBox(col, 0, yTitle ? 27 : 0);
  const cv = makeCanvas(b.left, b.top, b.w, b.h);
  // far (large) events first so the near, small ones stay visible on top
  const rows = points.slice().sort((p, q) => q[3] - p[3]);
  new Chart(cv, {
    type: 'bubble',
    data: {
      datasets: [{
        data: rows.map(p => ({ x: p[0], y: p[1], r: distRadius(p[3]) })),
        backgroundColor: rows.map(p => magColor(p[2], 0.8)),
        borderColor: 'rgba(70,70,70,0.5)',
        borderWidth: 0.9,
        clip: 0
      }]
    },
    options: {
      responsive: false, animation: false, events: [],
      layout: { padding: { top: PAD_TOP, right: PAD_RIGHT, left: b.padLeft, bottom: 0 } },
      plugins: { legend: { display: false }, tooltip: { enabled: false } },
      scales: {
        x: xAxis(b.xh, true, null),
        y: {
          type: 'logarithmic', min: 0.53, max: 1000,
          afterBuildTicks: s => { s.ticks = logTicks(0.53, 1000, pgaTicks); },
          afterFit: s => { s.width = b.yWidth; },
          border: { color: '#000', width: 2 },
          grid: { drawTicks: false, color: c => (c.tick && c.tick.major) ? 'rgba(0,0,0,0.2)' : 'rgba(0,0,0,0)', lineWidth: 1.4 },
          ticks: { autoSkip: false, padding: 8, font: TICK_FONT, color: '#000',
                   callback: v => pgaTicks.includes(v) ? v.toFixed(1) : '' },
          title: yTitle ? { display: true, text: yTitle, font: TITLE_FONT, color: '#000', padding: 0 } : { display: false }
        }
      }
    },
    plugins: [bandsPlugin(), peakLinePlugin(peak), tickMarks]
  });
}

function linePanel(col, row, black, red, peak, yTitle, xTitle) {
  const b = panelBox(col, row, yTitle ? 52 : 0);
  const cv = makeCanvas(b.left, b.top, b.w, b.h);
  const ds = (pts, color) => ({
    data: pts.map(p => ({ x: p[0], y: p[1] })),
    borderColor: color, borderWidth: 2.2, pointRadius: 0,
    cubicInterpolationMode: 'monotone', fill: false
  });
  new Chart(cv, {
    type: 'line',
    data: { datasets: [ds(black, '#000'), ds(red, '#ff0000')] },
    options: {
      responsive: false, animation: false, events: [],
      layout: { padding: { top: PAD_TOP, right: PAD_RIGHT, left: b.padLeft, bottom: 0 } },
      plugins: { legend: { display: false }, tooltip: { enabled: false } },
      scales: {
        x: xAxis(b.xh, false, xTitle),
        y: {
          type: 'linear', min: 0, max: 1,
          afterBuildTicks: s => { s.ticks = linTicks(); },
          afterFit: s => { s.width = b.yWidth; },
          border: { color: '#000', width: 2 },
          grid: { drawTicks: false, color: c => (c.tick && c.tick.major) ? 'rgba(0,0,0,0.16)' : 'rgba(0,0,0,0)', lineWidth: 1.2 },
          ticks: { autoSkip: false, padding: 8, font: TICK_FONT, color: '#000',
                   callback: v => normTicks.includes(v) ? v.toFixed(2) : '' },
          title: yTitle ? { display: true, text: yTitle, font: TITLE_FONT, color: '#000', padding: 0 } : { display: false }
        }
      }
    },
    plugins: [peakLinePlugin(peak), tickMarks]
  });
}

scatterPanel(0, radialPoints, peakRadial, 'PGA  (cm/s²)');
scatterPanel(1, transversePoints, peakTransverse, null);
linePanel(0, 1, spsdRadialBlack, spsdRadialRed, peakRadial, 'Normalized Power', null);
linePanel(1, 1, spsdTransBlack, spsdTransRed, peakTransverse, null, null);
linePanel(0, 2, sbsrRadialBlack, sbsrRadialRed, peakRadial, 'Normalized Amplitude', 'Frequency (Hz)');
linePanel(1, 2, sbsrTransBlack, sbsrTransRed, peakTransverse, null, 'Frequency (Hz)');

// magnitude colour bars (one per scatter panel)
[149, 581].forEach(x0 => {
  const cv = makeCanvas(x0 - 3, 131, 56, 24);
  const ctx = cv.getContext('2d');
  const L = 3, W = 48, T = 9, H = 12, bins = 7;
  const lo = colorbarTicks[0], hi = colorbarTicks[colorbarTicks.length - 1];
  for (let i = 0; i < bins; i++) {
    ctx.fillStyle = magColor(lo + (i - 0.2) * (hi - lo) / bins, 1);
    ctx.fillRect(L + i * W / bins, T, W / bins + 0.5, H);
  }
  ctx.strokeStyle = '#000'; ctx.lineWidth = 2;
  ctx.strokeRect(L, T, W, H);
  ctx.lineWidth = 1;
  for (let m = lo; m <= hi + 1e-9; m += 0.5) {
    const px = Math.round(L + (m - lo) / (hi - lo) * W) + 0.5;
    const len = colorbarTicks.includes(m) ? 5 : 3;
    ctx.beginPath(); ctx.moveTo(px, T); ctx.lineTo(px, T - len); ctx.stroke();
  }
});

// epicentral distance legend
const legendRows = [190, 221, 255, 290];
const page = document.getElementById('page');
distLegend.forEach((d, i) => {
  const r = distRadius(d);
  const dot = document.createElement('div');
  dot.className = 'dot';
  dot.style.left = '931px'; dot.style.top = legendRows[i] + 'px';
  dot.style.width = dot.style.height = (2 * r) + 'px';
  if (r < 2) { dot.style.border = 'none'; dot.style.background = '#000'; dot.style.width = dot.style.height = '3px'; }
  const txt = document.createElement('div');
  txt.className = 'leg';
  txt.style.left = '968px'; txt.style.top = legendRows[i] + 'px';
  txt.textContent = d + ' km';
  page.appendChild(dot); page.appendChild(txt);
});
</script>
</body>
</html>
